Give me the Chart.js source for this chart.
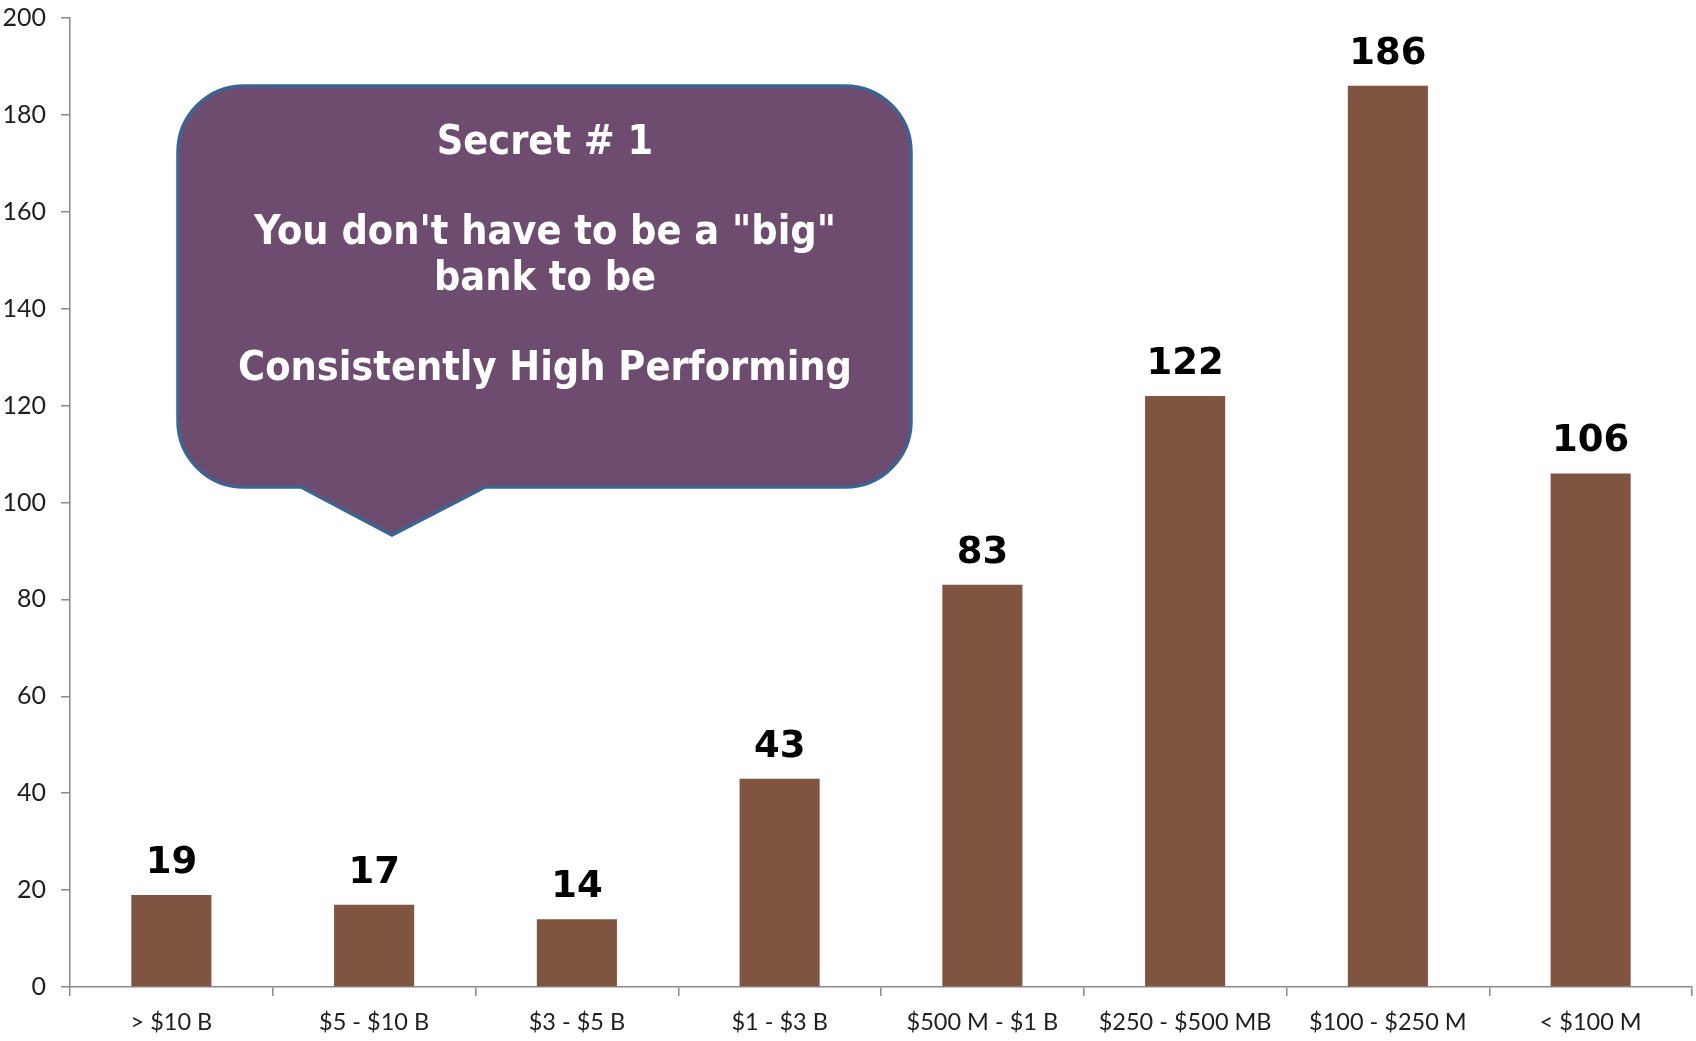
<!DOCTYPE html>
<html>
<head>
<meta charset="utf-8">
<title>High performing banks by asset size</title>
<script src="https://cdn.jsdelivr.net/npm/chart.js@4/dist/chart.umd.min.js"></script>
<style>
  html, body { margin: 0; padding: 0; background: #fff; }
  #wrap { width: 1696px; height: 1041px; }
</style>
</head>
<body>
<div id="wrap"><canvas id="banks"></canvas></div>
<script>
const sizeLabels = ['> $10 B', '$5 - $10 B', '$3 - $5 B', '$1 - $3 B', '$500 M - $1 B', '$250 - $500 MB', '$100 - $250 M', '< $100 M'];
const bankCounts = [19, 17, 14, 43, 83, 122, 186, 106];
const calloutLines = ['Secret # 1', '', 'You don\'t have to be a "big"', 'bank to be', '', 'Consistently High Performing'];

const axisGray = '#8a8a8a';
const barBrown = '#7f5440';

// numbers above each bar, read from the bar elements themselves
const valueLabels = {
  id: 'valueLabels',
  afterDatasetsDraw(chart) {
    const ctx = chart.ctx;
    const meta = chart.getDatasetMeta(0);
    ctx.save();
    ctx.font = 'bold 37px "DejaVu Sans"';
    ctx.fillStyle = '#000';
    ctx.textAlign = 'center';
    ctx.textBaseline = 'alphabetic';
    meta.data.forEach((bar, i) => {
      ctx.fillText(chart.data.datasets[0].data[i], bar.x, bar.y - 22);
    });
    ctx.restore();
  }
};

// speech bubble with the message
const callout = {
  id: 'callout',
  afterDraw(chart) {
    const ctx = chart.ctx;
    const left = 178, right = 911, top = 86, bottom = 487, r = 66;
    const baseL = 301, baseR = 485, tipX = 392, tipY = 535;
    ctx.save();
    ctx.beginPath();
    ctx.moveTo(left + r, top);
    ctx.lineTo(right - r, top);
    ctx.arcTo(right, top, right, top + r, r);
    ctx.lineTo(right, bottom - r);
    ctx.arcTo(right, bottom, right - r, bottom, r);
    ctx.lineTo(baseR, bottom);
    ctx.lineTo(tipX, tipY);
    ctx.lineTo(baseL, bottom);
    ctx.lineTo(left + r, bottom);
    ctx.arcTo(left, bottom, left, bottom - r, r);
    ctx.lineTo(left, top + r);
    ctx.arcTo(left, top, left + r, top, r);
    ctx.closePath();
    ctx.fillStyle = '#6d4c6f';
    ctx.fill();
    ctx.lineWidth = 3.5;
    ctx.strokeStyle = '#3c6391';
    ctx.stroke();

    ctx.fillStyle = '#fff';
    ctx.textAlign = 'center';
    ctx.textBaseline = 'middle';
    ctx.font = 'bold 41px "DejaVu Sans Condensed", "DejaVu Sans"';
    const ys = [143, 188, 233, 279, 324, 369];
    calloutLines.forEach((line, i) => {
      if (line) ctx.fillText(line, 545, ys[i]);
    });
    ctx.restore();
  }
};

new Chart(document.getElementById('banks').getContext('2d'), {
  type: 'bar',
  data: {
    labels: sizeLabels,
    datasets: [{
      data: bankCounts,
      backgroundColor: barBrown,
      borderWidth: 0,
      barPercentage: 0.395,
      categoryPercentage: 1
    }]
  },
  options: {
    responsive: true,
    maintainAspectRatio: false,
    animation: false,
    layout: { padding: { top: 18, right: 4, left: 0, bottom: 0 } },
    plugins: {
      legend: { display: false },
      tooltip: { enabled: false }
    },
    scales: {
      x: {
        offset: true,
        border: { display: true, color: axisGray, width: 1.5 },
        grid: { display: true, offset: true, drawOnChartArea: false, drawTicks: true, tickLength: 9, color: axisGray, lineWidth: 1.5 },
        ticks: { color: '#1e1e1e', font: { family: 'Lato', size: 23.5 }, padding: 12, maxRotation: 0, autoSkip: false },
        afterFit(scale) { scale.height = 54; }
      },
      y: {
        min: 0,
        max: 200,
        border: { display: true, color: axisGray, width: 1.5 },
        grid: { display: true, drawOnChartArea: false, drawTicks: true, tickLength: 9, color: axisGray, lineWidth: 1.5 },
        ticks: { stepSize: 20, color: '#1e1e1e', font: { family: 'Lato', size: 25 }, padding: 15 },
        afterFit(scale) {
          scale.width = 70;
          scale.paddingTop = 0;
          scale.paddingBottom = 0;
        }
      }
    }
  },
  plugins: [valueLabels, callout]
});
</script>
</body>
</html>
